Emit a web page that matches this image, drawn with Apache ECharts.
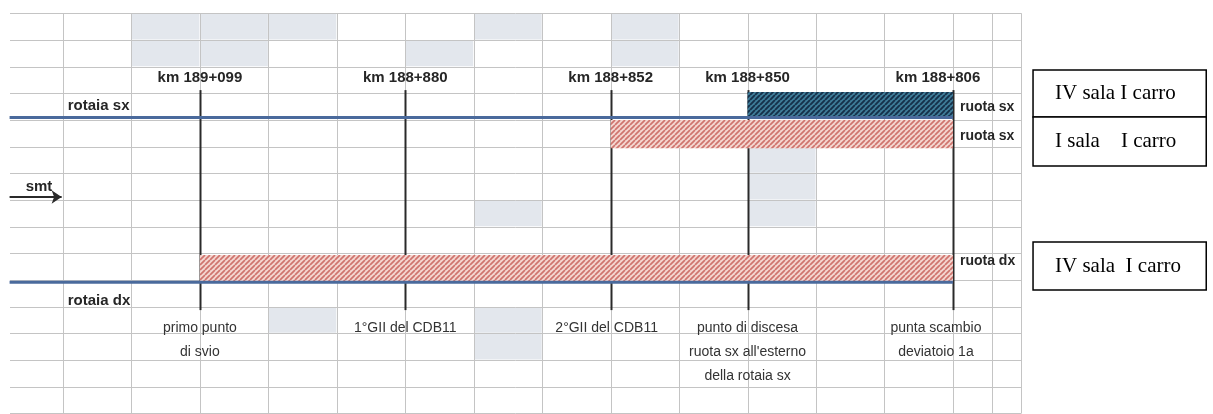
<!DOCTYPE html>
<html><head><meta charset="utf-8">
<script src="https://cdn.jsdelivr.net/npm/echarts@6/dist/echarts.min.js"></script>
<style>html,body{margin:0;padding:0;background:#fff}#c{width:1213px;height:414px}</style>
</head><body><div id="c"></div>
<script>
// ---- data (schematic units: x = spreadsheet column index, y = spreadsheet row index) ----
const kmLabels = ['km 189+099', 'km 188+880', 'km 188+852', 'km 188+850', 'km 188+806'];
const kmPos = [2, 5, 8, 10, 13];
const bottomNotes = ['primo punto\ndi svio', '1°GII del CDB11', '2°GII del CDB11',
  'punto di discesa\nruota sx all\'esterno\ndella rotaia sx', 'punta scambio\ndeviatoio 1a'];
const railNames = ['rotaia sx', 'rotaia dx'];
const railRow = [3.91, 10.09];
const railFrom = [-0.78, -0.78];
const railTo = [13, 13];
const bandNames = ['ruota sx', 'ruota sx', 'ruota dx'];
const bandFrom = [10, 8, 2];
const bandTo = [13, 13, 13];
const bandTop = [2.95, 4.0, 9.06];
const bandBottom = [3.91, 5.06, 10.09];
const wheelSets = ['IV sala I carro', 'I sala    I carro', 'IV sala  I carro'];
const wheelBoxTop = [2.13, 3.89, 8.58];
const wheelBoxBottom = [3.89, 5.73, 10.38];
const directionLabel = 'smt';
const shadedCells = [[1,0],[2,0],[1,1],[2,1],[3,0],[5,1],[6,0],[8,0],[8,1],[10,5],[10,6],[10,7],[6,7],[3,11],[6,11],[6,12]];
const columnLines = [0,1,2,3,4,5,6,7,8,9,10,11,12,13,13.57,14];
const rowLines = [0,1,2,3,4,5,6,7,8,9,10,11,12,13,14,15];

// ---- styles ----
function hatch(bg, fg, size, lw) {
  const c = document.createElement('canvas');
  c.width = c.height = size;
  const g = c.getContext('2d');
  g.fillStyle = bg; g.fillRect(0, 0, size, size);
  g.strokeStyle = fg; g.lineWidth = lw; g.beginPath();
  for (let k = -size; k <= 2 * size; k += size) { g.moveTo(k, size); g.lineTo(k + size, 0); }
  g.stroke();
  return c;
}
const blueHatch = { image: hatch('#3f7c98', '#15304a', 5, 1.9), repeat: 'repeat' };
const pinkHatch = { image: hatch('#f4d6d0', '#cf746e', 5, 1.7), repeat: 'repeat' };
const bandFills = [blueHatch, pinkHatch, pinkHatch];
const BOLD = '"Liberation Sans", Arial, sans-serif';
const REG = '"Liberation Sans", Arial, sans-serif';
const X_MIN = -0.92, X_MAX = 14, GRID_COLOR = '#c4c4c4';

// text items built from the arrays
const texts = [];
kmLabels.forEach((t, k) => texts.push({ v: [kmPos[k], 2.41], text: t, dx: k === 4 ? -15 : 0, dy: 0, align: 'center', size: 15, weight: 'bold', fam: BOLD, color: '#262626' }));
railNames.forEach((t, k) => texts.push({ v: [0.07, railRow[k] + (k === 0 ? -0.45 : 0.7)], text: t, dx: 0, dy: 0, align: 'left', size: 15, weight: 'bold', fam: BOLD, color: '#262626' }));
bandNames.forEach((t, k) => texts.push({ v: [bandTo[k], (bandTop[k] + bandBottom[k]) / 2], text: t, dx: 7, dy: k === 2 ? -7 : 2, align: 'left', size: 14, weight: 'bold', fam: BOLD, color: '#262626' }));
texts.push({ v: [-0.35, 6.5], text: directionLabel, dx: 0, dy: 0, align: 'center', size: 15, weight: 'bold', fam: BOLD, color: '#262626' });
bottomNotes.forEach((t, k) => t.split('\n').forEach((line, r) => texts.push({ v: [kmPos[k], 11.8 + r * 0.9], text: line, dx: k === 4 ? -17 : (k === 2 ? -4 : 0), dy: 0, align: 'center', size: 14, weight: 'normal', fam: REG, color: '#333333' })));

const chart = echarts.init(document.getElementById('c'), null, { renderer: 'canvas' });
const hidden = { axisLine: { show: false }, axisTick: { show: false }, axisLabel: { show: false }, splitLine: { show: false } };
function vline(x, y0, y1, api, style) {
  const a = api.coord([x, y0]), b = api.coord([x, y1]);
  return { type: 'line', shape: { x1: Math.round(a[0]) + 0.5, y1: a[1], x2: Math.round(b[0]) + 0.5, y2: b[1] }, style };
}
chart.setOption({
  animation: false,
  backgroundColor: '#ffffff',
  grid: { left: 0, top: 13.3, width: 1021.4, height: 400, containLabel: false },
  xAxis: Object.assign({ type: 'value', min: X_MIN, max: X_MAX }, hidden),
  yAxis: Object.assign({ type: 'value', inverse: true, min: 0, max: 15 }, hidden),
  series: [
    { type: 'custom', z: 1, silent: true, data: shadedCells,
      renderItem: (p, api) => {
        const a = api.coord([api.value(0), api.value(1)]), b = api.coord([api.value(0) + 1, api.value(1) + 1]);
        return { type: 'rect', shape: { x: a[0] + 0.5, y: a[1] + 0.5, width: b[0] - a[0] - 1, height: b[1] - a[1] - 1 }, style: { fill: '#e3e7ed' } };
      } },
    { type: 'custom', z: 2, silent: true, data: columnLines.map(x => [x, 0]),
      renderItem: (p, api) => vline(api.value(0), 0, 15, api, { stroke: GRID_COLOR, lineWidth: 1 }) },
    { type: 'custom', z: 2, silent: true, data: rowLines.map(y => [X_MIN, y]),
      renderItem: (p, api) => {
        const a = api.coord([X_MIN, api.value(1)]), b = api.coord([X_MAX, api.value(1)]);
        return { type: 'line', shape: { x1: a[0] + 10, y1: Math.round(a[1]) + 0.5, x2: b[0], y2: Math.round(b[1]) + 0.5 }, style: { stroke: GRID_COLOR, lineWidth: 1 } };
      } },
    { type: 'custom', z: 3, silent: true, data: kmPos.map(x => [x, 2.88]),
      renderItem: (p, api) => vline(api.value(0), 2.88, 11.13, api, { stroke: '#2a2a2a', lineWidth: 2 }) },
    { type: 'custom', z: 4, silent: true, data: bandFrom.map((x, k) => [x, bandTop[k], bandTo[k], bandBottom[k]]),
      renderItem: (p, api) => {
        const a = api.coord([api.value(0), api.value(1)]), b = api.coord([api.value(2), api.value(3)]);
        return { type: 'rect', shape: { x: a[0], y: a[1], width: b[0] - a[0], height: b[1] - a[1] }, style: { fill: bandFills[p.dataIndex] } };
      } },
    ...railRow.map((r, k) => ({ type: 'line', name: railNames[k], z: 5, silent: true, showSymbol: false, symbol: 'none',
      data: [[railFrom[k], r], [railTo[k], r]], lineStyle: { color: '#4a6a9c', width: 3 } })),
    { type: 'lines', coordinateSystem: 'cartesian2d', z: 5, silent: true, symbol: ['none', 'arrow'], symbolSize: 10,
      lineStyle: { color: '#2a2a2a', width: 2, opacity: 1 },
      data: [{ coords: [[-0.78, 6.89], [-0.02, 6.89]] }] },
    { type: 'custom', z: 6, silent: true, data: texts.map(t => t.v),
      renderItem: (p, api) => {
        const t = texts[p.dataIndex];
        const c = api.coord([api.value(0), api.value(1)]);
        return { type: 'text', x: c[0] + t.dx, y: c[1] + t.dy,
          style: { text: t.text, fill: t.color, fontSize: t.size, fontWeight: t.weight, fontFamily: t.fam, align: t.align, verticalAlign: 'middle' } };
      } },
    { type: 'custom', z: 7, silent: true, data: wheelSets.map((s, k) => [14.17, wheelBoxTop[k], 16.7, wheelBoxBottom[k]]),
      renderItem: (p, api) => {
        const a = api.coord([api.value(0), api.value(1)]), b = api.coord([api.value(2), api.value(3)]);
        return { type: 'group', children: [
          { type: 'rect', shape: { x: a[0], y: a[1], width: b[0] - a[0], height: b[1] - a[1] }, style: { fill: '#ffffff', stroke: '#000000', lineWidth: 1.5 } },
          { type: 'text', x: a[0] + 22, y: (a[1] + b[1]) / 2, style: { text: wheelSets[p.dataIndex], fill: '#000000', fontSize: 21, fontFamily: '"Liberation Serif", "Times New Roman", serif', align: 'left', verticalAlign: 'middle' } }
        ] };
      } }
  ]
});
</script></body></html>
